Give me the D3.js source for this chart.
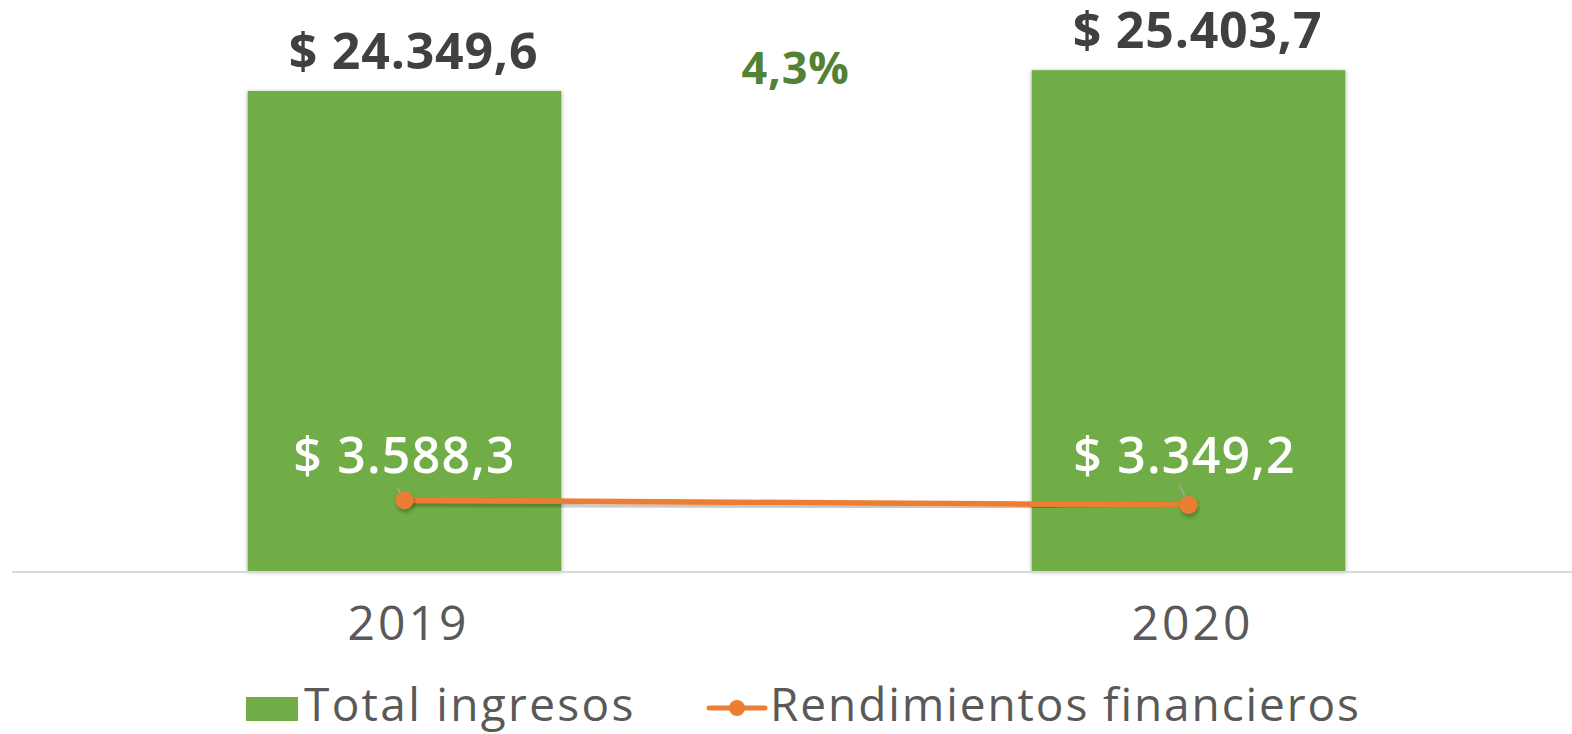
<!DOCTYPE html>
<html><head><meta charset="utf-8">
<script src="https://cdn.jsdelivr.net/npm/d3@7"></script>
<style>body{margin:0;background:#fff}svg{display:block}text{font-family:"Open Sans","Noto Sans",sans-serif}</style>
</head><body><svg id="c" width="1572" height="734"></svg>
<script>
const categories = ["2019", "2020"];
const totalIngresos = [24349.6, 25403.7];
const rendimientos = [3588.3, 3349.2];
const barLabels = ["$ 24.349,6", "$ 25.403,7"];
const lineLabels = ["$ 3.588,3", "$ 3.349,2"];
const growthLabel = "4,3%";
const seriesNames = ["Total ingresos", "Rendimientos financieros"];

const svg = d3.select("#c");
const defs = svg.append("defs");
const f = defs.append("filter").attr("id","sh").attr("x","-10%").attr("y","-10%").attr("width","120%").attr("height","120%");
f.append("feDropShadow").attr("dx",0).attr("dy",1).attr("stdDeviation",2).attr("flood-color","#000").attr("flood-opacity",0.35);
const f2 = defs.append("filter").attr("id","sh2").attr("x","-10%").attr("y","-50%").attr("width","120%").attr("height","200%");
f2.append("feDropShadow").attr("dx",1).attr("dy",3).attr("stdDeviation",2).attr("flood-color","#000").attr("flood-opacity",0.3);

const x = d3.scaleBand().domain(categories).range([12.5, 1580.5]).paddingInner(0.6).paddingOuter(0.3);
const y = d3.scaleLinear().domain([0, 28000]).range([571, 19]);

// bars
svg.append("g").selectAll("rect").data(categories).join("rect")
  .attr("x", d => x(d)).attr("width", x.bandwidth())
  .attr("y", (d,i) => y(totalIngresos[i])).attr("height", (d,i) => y(0) - y(totalIngresos[i]))
  .attr("fill", "#70AD47").attr("filter","url(#sh)");

// axis baseline
const xAxis = svg.append("g").attr("transform", `translate(0,${y(0)+1})`)
  .call(d3.axisBottom(x).tickSize(0).tickPadding(34));
xAxis.select(".domain").attr("stroke","#d9d9d9").attr("stroke-width",2).attr("d","M12,0H1572");
xAxis.selectAll(".tick text").attr("font-size",48).attr("fill","#595959").attr("letter-spacing","3px")
  .attr("font-family","'Open Sans',sans-serif").attr("dx","4");

// line
const cx = d => x(d) + x.bandwidth()/2;
const line = d3.line().x((d,i)=>cx(categories[i])).y(d=>y(d));
svg.append("path").datum(rendimientos).attr("d", line).attr("fill","none")
  .attr("stroke","#ED7D31").attr("stroke-width",5.5).attr("filter","url(#sh2)");

// leader lines
const leaderDx = [-7, -9], leaderDy = [-12, -20];
svg.append("g").selectAll("line").data(rendimientos).join("line")
  .attr("x1",(d,i)=>cx(categories[i])+leaderDx[i]).attr("y1",(d,i)=>y(d)+leaderDy[i])
  .attr("x2",(d,i)=>cx(categories[i])).attr("y2",d=>y(d))
  .attr("stroke","#a6a6a6").attr("stroke-width",1.5);

svg.append("g").selectAll("circle").data(rendimientos).join("circle")
  .attr("cx",(d,i)=>cx(categories[i])).attr("cy",d=>y(d)).attr("r",9)
  .attr("fill","#ED7D31").attr("filter","url(#sh2)");

// bar labels
svg.append("g").selectAll("text").data(barLabels).join("text")
  .attr("x",(d,i)=>cx(categories[i])+9).attr("y",(d,i)=>y(totalIngresos[i])-22)
  .attr("text-anchor","middle").attr("font-size",50).attr("font-weight","bold").attr("fill","#404040")
  .attr("letter-spacing","0.8px")
  .text(d=>d);

// line labels
svg.append("g").selectAll("text").data(lineLabels).join("text")
  .attr("x",(d,i)=>cx(categories[i])+[0,-4][i]).attr("y",473)
  .attr("text-anchor","middle").attr("font-size",50).attr("font-weight",600).attr("fill","#ffffff")
  .attr("letter-spacing","1.2px")
  .text(d=>d);

// growth label
svg.append("text").attr("x",(cx(categories[0])+cx(categories[1]))/2 - 1).attr("y",84)
  .attr("text-anchor","middle").attr("font-size",45).attr("font-weight","bold").attr("fill","#538135")
  .attr("font-family","'Liberation Sans',Arial,sans-serif").attr("letter-spacing","0.8px")
  .text(growthLabel);

// legend
const lg = svg.append("g");
lg.append("rect").attr("x",246).attr("y",697).attr("width",52).attr("height",24).attr("fill","#70AD47");
lg.append("text").attr("x",304).attr("y",721).attr("font-size",46).attr("fill","#595959").attr("letter-spacing","2.3px").text(seriesNames[0]);
lg.append("line").attr("x1",709).attr("x2",765).attr("y1",708).attr("y2",708).attr("stroke","#ED7D31").attr("stroke-width",5).attr("stroke-linecap","round");
lg.append("circle").attr("cx",737).attr("cy",708).attr("r",8).attr("fill","#ED7D31");
lg.append("text").attr("x",770).attr("y",721).attr("font-size",46).attr("fill","#595959").attr("letter-spacing","1.9px").text(seriesNames[1]);
</script></body></html>
